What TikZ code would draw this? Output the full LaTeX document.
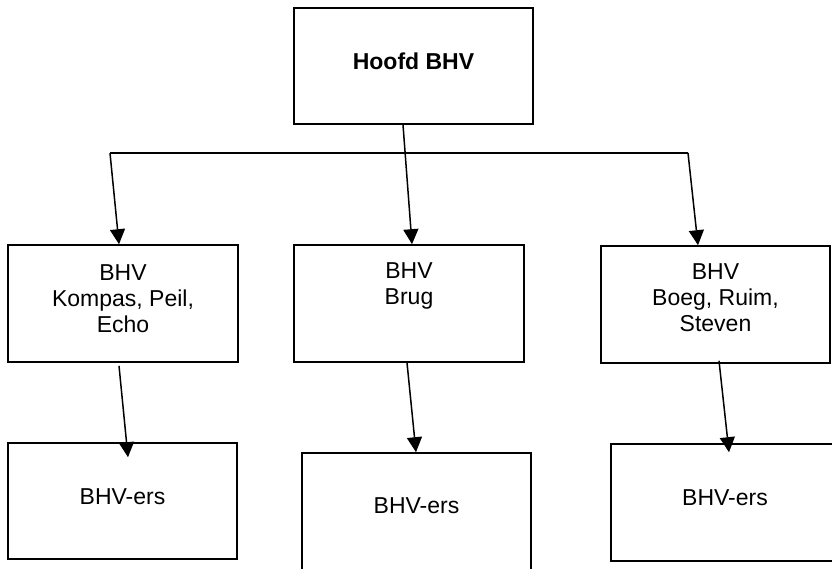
\documentclass[tikz,border=0pt]{standalone}
\usepackage{fontspec}
\setmainfont{Liberation Sans}
\usetikzlibrary{arrows.meta}
\tikzset{
  box/.style={draw=black, line width=1.6pt, rectangle, inner sep=0pt},
  lbl/.style={inner sep=0pt, align=center, font=\fontsize{23}{26}\selectfont},
  conn/.style={draw=black, line width=1.5pt, -{Triangle[length=15pt,width=15pt]}},
  plain/.style={draw=black, line width=1.5pt},
}
\begin{document}
\begin{tikzpicture}[x=1pt,y=-1pt]
\useasboundingbox (0,0) rectangle (832,568);
\fill[white] (0,0) rectangle (832,568);
\clip (0,0) rectangle (832,568);
% boxes
\node[box, minimum width=239pt, minimum height=116pt] (T) at (413.5,66) {};
\node[box, minimum width=230pt, minimum height=117pt] (L) at (123,303.5) {};
\node[box, minimum width=230pt, minimum height=117pt] (M) at (409,303.5) {};
\node[box, minimum width=229pt, minimum height=117pt] (R) at (715.5,304.5) {};
\node[box, minimum width=229pt, minimum height=116pt] (LB) at (122.5,501) {};
\node[box, minimum width=229pt, minimum height=117pt] (MB) at (416.5,511.5) {};
\node[box, minimum width=228pt, minimum height=117pt] (RB) at (725,502.5) {};
% texts
\node[lbl, anchor=base, font=\fontsize{23}{26}\selectfont\bfseries] (Tt) at (413.5,69) {Hoofd BHV};
\node[lbl, anchor=north] (Lt) at (123,264.5) {BHV\\Kompas, Peil,\\Echo};
\node[lbl, anchor=north] (Mt) at (409,262) {BHV\\Brug};
\node[lbl, anchor=north] (Rt) at (715.5,263.5) {BHV\\Boeg, Ruim,\\Steven};
\node[lbl, anchor=base] (LBt) at (122.5,504) {BHV-ers};
\node[lbl, anchor=base] (MBt) at (416.5,513) {BHV-ers};
\node[lbl, anchor=base] (RBt) at (725,505) {BHV-ers};
% connectors
\coordinate (hl) at (110,153);
\coordinate (hr) at (688,153);
\draw[plain] (hl) -- (hr);
\draw[conn] (hl) -- ([xshift=-4pt]L.north);
\draw[conn] (hr) -- ([xshift=-17.5pt]R.north);
\draw[conn] ([xshift=-10.5pt]T.south) -- ([xshift=3pt]M.north);
\draw[conn] ([xshift=-4pt,yshift=-3pt]L.south) -- ([xshift=5.5pt,yshift=-15pt]LB.north);
\draw[conn] ([xshift=-2pt]M.south) -- ([xshift=-0.5pt]MB.north);
\draw[conn] ([xshift=3.5pt,yshift=3pt]R.south) -- ([xshift=4pt,yshift=-9pt]RB.north);
\end{tikzpicture}
\end{document}
